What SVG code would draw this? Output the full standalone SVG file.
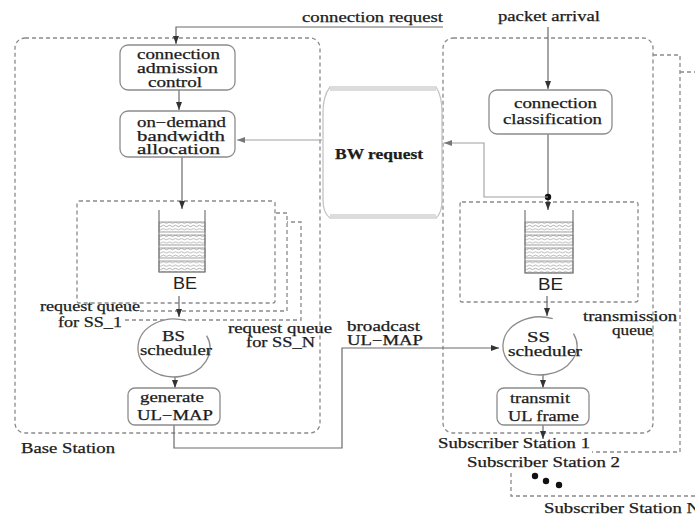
<svg xmlns="http://www.w3.org/2000/svg" width="695" height="515" viewBox="0 0 695 515">
<defs>
<style>
.t{font-family:"Liberation Serif","Times New Roman",serif;font-size:14px;fill:#1c1c1c;stroke:#1c1c1c;stroke-width:0.25}
.b{font-weight:bold;font-size:15px}
.s{font-family:"Liberation Sans",Arial,sans-serif;font-size:16px;fill:#222}
.dash{fill:none;stroke:#8a8a8a;stroke-width:1.3;stroke-dasharray:4 3}
.node{fill:#fff;stroke:#8c8c8c;stroke-width:1.3}
.conn{fill:none;stroke:#6a6a6a;stroke-width:1.2}
.lite{fill:none;stroke:#a0a0a0;stroke-width:1.1}
.band{fill:url(#wave);stroke:#8c8c8c;stroke-width:0.8}
.stack{fill:none;stroke:#777;stroke-width:1.2}
</style>
<pattern id="wave" width="6" height="3.3" patternUnits="userSpaceOnUse">
<rect width="6" height="3.3" fill="#fff"/>
<path d="M0,1.6 Q1.5,0.3 3,1.6 T6,1.6" fill="none" stroke="#8a8a8a" stroke-width="0.7"/>
</pattern>
<marker id="ah" markerWidth="8" markerHeight="6" refX="8" refY="3" orient="auto" markerUnits="userSpaceOnUse">
<path d="M0,0 L8,3 L0,6 z" fill="#333"/>
</marker>
<marker id="ahl" markerWidth="8" markerHeight="6" refX="8" refY="3" orient="auto" markerUnits="userSpaceOnUse">
<path d="M0,0 L8,3 L0,6 z" fill="#777"/>
</marker>
</defs>
<rect width="695" height="515" fill="#fff"/>

<!-- containers -->
<g id="base-station">
<rect class="dash" x="15" y="38" width="305" height="395" rx="10"/>
<text class="t" x="21" y="453" textLength="94" lengthAdjust="spacingAndGlyphs">Base Station</text>
</g>
<g id="request-queues">
<path class="dash" d="M140,311 H287 V213 H275"/>
<path class="dash" d="M125,320 H301 V222 H287"/>
<rect class="dash" x="77" y="201" width="198" height="102" rx="2"/>
<text class="t" x="40" y="311" textLength="100" lengthAdjust="spacingAndGlyphs">request queue</text>
<text class="t" x="58" y="327" textLength="64" lengthAdjust="spacingAndGlyphs">for SS_1</text>
<text class="t" x="228" y="333" textLength="104" lengthAdjust="spacingAndGlyphs">request queue</text>
<text class="t" x="246" y="347" textLength="69" lengthAdjust="spacingAndGlyphs">for SS_N</text>
</g>
<g id="subscriber-stations">
<path class="dash" d="M680,72 H695 M511,473 V496 H695"/>
<path class="dash" d="M653,55 H680 V452 H592"/>
<rect class="dash" x="443" y="38" width="210" height="395" rx="10"/>
<text class="t" x="438" y="448" textLength="152" lengthAdjust="spacingAndGlyphs">Subscriber Station 1</text>
<text class="t" x="467" y="467" textLength="153" lengthAdjust="spacingAndGlyphs">Subscriber Station 2</text>
<text class="t" x="544" y="513" textLength="156" lengthAdjust="spacingAndGlyphs">Subscriber Station N</text>
<circle cx="535" cy="476" r="3.2" fill="#111"/>
<circle cx="546" cy="481" r="3.2" fill="#111"/>
<circle cx="559" cy="485" r="3.2" fill="#111"/>
</g>
<g id="transmission-queue">
<rect class="dash" x="460" y="202" width="178" height="100" rx="2"/>
<text class="t" x="583" y="321" textLength="94" lengthAdjust="spacingAndGlyphs">transmission</text>
<text class="t" x="612" y="335" textLength="41" lengthAdjust="spacingAndGlyphs">queue</text>
</g>

<!-- connectors -->
<g id="connectors">
<polyline class="conn" points="443,27 176,27 176,44" marker-end="url(#ah)"/>
<line class="conn" x1="179" y1="90" x2="179" y2="110" marker-end="url(#ah)"/>
<line class="lite" x1="322" y1="140" x2="237" y2="140" marker-end="url(#ahl)"/>
<line class="conn" x1="182" y1="157" x2="182" y2="209" marker-end="url(#ah)"/>
<line class="conn" x1="179" y1="296" x2="179" y2="317" marker-end="url(#ah)"/>
<line class="conn" x1="175" y1="377" x2="175" y2="388" marker-end="url(#ah)"/>
<polyline class="conn" points="174,425 174,448 342,448 342,348 499,348" marker-end="url(#ah)"/>
<line class="conn" x1="548" y1="27" x2="548" y2="89" marker-end="url(#ah)"/>
<line class="conn" x1="548" y1="134" x2="548" y2="210" marker-end="url(#ah)"/>
<circle cx="548" cy="197" r="3.2" fill="#111"/>
<polyline class="lite" points="548,197 484,197 484,143 444,143" marker-end="url(#ahl)"/>
<line class="conn" x1="547" y1="296" x2="547" y2="316" marker-end="url(#ah)"/>
<line class="conn" x1="543" y1="375" x2="543" y2="388" marker-end="url(#ah)"/>
<line class="conn" x1="543" y1="425" x2="543" y2="439" marker-end="url(#ah)"/>
<text class="t" x="302" y="22" textLength="141" lengthAdjust="spacingAndGlyphs">connection request</text>
<text class="t" x="498" y="21" textLength="102" lengthAdjust="spacingAndGlyphs">packet arrival</text>
<text class="t" x="347" y="331" textLength="73" lengthAdjust="spacingAndGlyphs">broadcast</text>
<text class="t" x="347" y="345" textLength="76" lengthAdjust="spacingAndGlyphs">UL−MAP</text>
</g>

<!-- nodes -->
<g id="cac">
<rect class="node" x="120" y="45" width="115" height="45" rx="8"/>
<text class="t" x="137" y="59" textLength="83" lengthAdjust="spacingAndGlyphs">connection</text>
<text class="t" x="137" y="73" textLength="81" lengthAdjust="spacingAndGlyphs">admission</text>
<text class="t" x="148" y="87" textLength="54" lengthAdjust="spacingAndGlyphs">control</text>
</g>
<g id="bw-allocation">
<rect class="node" x="120" y="111" width="115" height="46" rx="8"/>
<text class="t" x="137" y="127" textLength="89" lengthAdjust="spacingAndGlyphs">on−demand</text>
<text class="t" x="137" y="140.5" textLength="88" lengthAdjust="spacingAndGlyphs">bandwidth</text>
<text class="t" x="137" y="154" textLength="83" lengthAdjust="spacingAndGlyphs">allocation</text>
</g>
<g id="bw-request">
<path d="M330,87 Q323,96 323,112 L323,200 Q323,213 330,218 L436,218 Q442,213 442,200 L442,112 Q442,96 436,87 Z" fill="#fff" stroke="#c4c4c4" stroke-width="1.3"/>
<line x1="330" y1="88.5" x2="436" y2="88.5" stroke="#dcdcdc" stroke-width="5"/>
<line x1="330" y1="216.5" x2="436" y2="216.5" stroke="#dcdcdc" stroke-width="5"/>
<text class="t b" x="335" y="159" textLength="88" lengthAdjust="spacingAndGlyphs">BW request</text>
</g>
<g id="bs-queue">
<rect class="band" x="159" y="222" width="46" height="10"/>
<rect class="band" x="159" y="235" width="46" height="10"/>
<rect class="band" x="159" y="248" width="46" height="10"/>
<rect class="band" x="159" y="261" width="46" height="11"/>
<path class="stack" d="M159,210 V272 H205 V210"/>
<text class="s" x="173" y="289" textLength="24" lengthAdjust="spacingAndGlyphs">BE</text>
</g>
<g id="bs-scheduler">
<path d="M206.6,335.7 A36,29 0 1 1 186.3,320.7" fill="#fff" stroke="#8c8c8c" stroke-width="1.3"/>
<text class="t" x="162" y="341" textLength="23" lengthAdjust="spacingAndGlyphs">BS</text>
<text class="t" x="140" y="355" textLength="72" lengthAdjust="spacingAndGlyphs">scheduler</text>
</g>
<g id="generate-ulmap">
<rect class="node" x="128" y="388" width="92" height="37" rx="7"/>
<text class="t" x="140" y="402" textLength="64" lengthAdjust="spacingAndGlyphs">generate</text>
<text class="t" x="137" y="420" textLength="76" lengthAdjust="spacingAndGlyphs">UL−MAP</text>
</g>
<g id="classification">
<rect class="node" x="489" y="90" width="123" height="44" rx="8"/>
<text class="t" x="514" y="108" textLength="83" lengthAdjust="spacingAndGlyphs">connection</text>
<text class="t" x="503" y="124" textLength="99" lengthAdjust="spacingAndGlyphs">classification</text>
</g>
<g id="ss-queue">
<rect class="band" x="525" y="222" width="48" height="10"/>
<rect class="band" x="525" y="235" width="48" height="10"/>
<rect class="band" x="525" y="248" width="48" height="10"/>
<rect class="band" x="525" y="261" width="48" height="12"/>
<path class="stack" d="M525,210 V273 H573 V210"/>
<text class="s" x="538" y="290" textLength="25" lengthAdjust="spacingAndGlyphs">BE</text>
</g>
<g id="ss-scheduler">
<path d="M573.5,333.7 A37,29 0 1 1 552.7,318.7" fill="#fff" stroke="#8c8c8c" stroke-width="1.3"/>
<text class="t" x="527" y="342" textLength="23" lengthAdjust="spacingAndGlyphs">SS</text>
<text class="t" x="508" y="356" textLength="74" lengthAdjust="spacingAndGlyphs">scheduler</text>
</g>
<g id="transmit-ul">
<rect class="node" x="497" y="388" width="92" height="37" rx="7"/>
<text class="t" x="510" y="403" textLength="60" lengthAdjust="spacingAndGlyphs">transmit</text>
<text class="t" x="508" y="421" textLength="71" lengthAdjust="spacingAndGlyphs">UL frame</text>
</g>
</svg>
